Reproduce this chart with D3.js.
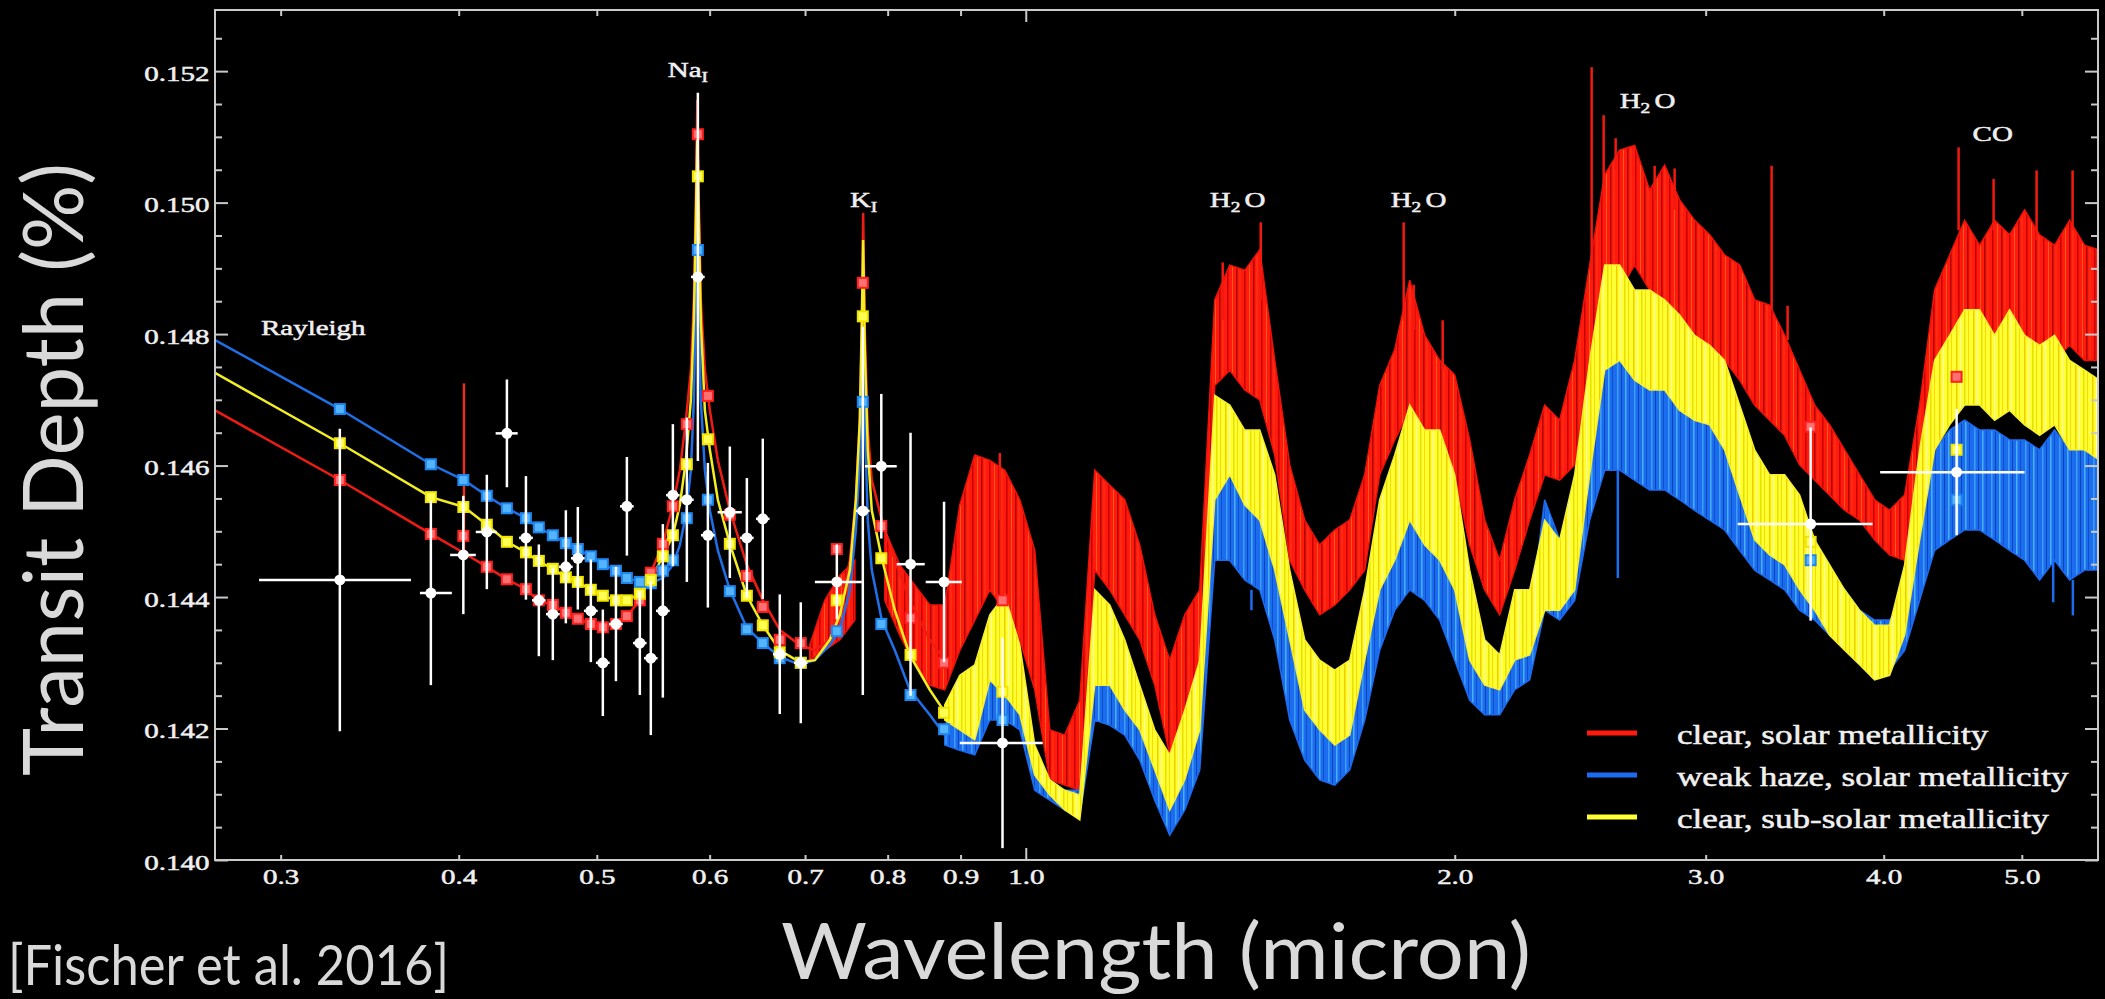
<!DOCTYPE html>
<html>
<head>
<meta charset="utf-8">
<script src="https://cdn.jsdelivr.net/npm/d3@7"></script>
<style>
  html, body { margin: 0; padding: 0; background: #000; overflow: hidden; }
  svg { display: block; }
</style>
</head>
<body>
<div id="chart"></div>
<script>
// ---- axes ----
const xDomain = [0.2698, 5.655];
const yDomain = [0.140, 0.15293];
const xTicks = [0.3, 0.4, 0.5, 0.6, 0.7, 0.8, 0.9, 1.0, 2.0, 3.0, 4.0, 5.0];
const yMajor = [0.140, 0.142, 0.144, 0.146, 0.148, 0.150, 0.152];
const yMinor = [0.1405, 0.141, 0.1415, 0.1425, 0.143, 0.1435, 0.1445, 0.145, 0.1455,
                0.1465, 0.147, 0.1475, 0.1485, 0.149, 0.1495, 0.1505, 0.151, 0.1515, 0.1525];

// ---- smooth model part (optical) ----
const smoothWave = [0.2698,0.3301,0.3824,0.4034,0.4186,0.4324,0.4459,0.4546,0.4657,0.4756,0.4849,0.4952,0.5049,0.5157,0.5249,0.5360,0.5456,0.5563,0.5654,0.5718,0.5774,0.5821,0.5849,0.5868,0.5882,0.5896,0.5915,0.5954,0.6002,0.6080,0.6199,0.6372,0.6539,0.6720,0.6941,0.7112,0.7286,0.7405,0.7526,0.7599,0.7648,0.7673,0.7689,0.7710,0.7747,0.7797,0.7924,0.8093,0.8291,0.8563,0.8773];
const redSmooth = [0.14684,0.14578,0.14496,0.14467,0.14446,0.14427,0.14412,0.14395,0.14388,0.14376,0.14367,0.14359,0.14354,0.14359,0.14371,0.14395,0.14437,0.14481,0.14540,0.14593,0.14669,0.14745,0.14852,0.15004,0.15156,0.15004,0.14852,0.14745,0.14684,0.14608,0.14532,0.14449,0.14395,0.14350,0.14327,0.14319,0.14335,0.14380,0.14456,0.14548,0.14669,0.14806,0.14984,0.14806,0.14654,0.14578,0.14517,0.14456,0.14395,0.14335,0.14304];
const blueSmooth = [0.14791,0.14686,0.14602,0.14578,0.14554,0.14535,0.14520,0.14506,0.14494,0.14482,0.14473,0.14462,0.14450,0.14440,0.14429,0.14423,0.14421,0.14429,0.14449,0.14479,0.14525,0.14593,0.14700,0.14852,0.15004,0.14852,0.14700,0.14593,0.14532,0.14471,0.14411,0.14353,0.14330,0.14309,0.14297,0.14304,0.14327,0.14350,0.14411,0.14502,0.14608,0.14730,0.14806,0.14669,0.14517,0.14441,0.14365,0.14319,0.14259,0.14221,0.14190];
const yellowSmooth = [0.14741,0.14634,0.14552,0.14537,0.14510,0.14484,0.14468,0.14455,0.14443,0.14430,0.14423,0.14411,0.14402,0.14395,0.14395,0.14405,0.14426,0.14462,0.14494,0.14540,0.14608,0.14700,0.14821,0.14973,0.15110,0.14973,0.14821,0.14684,0.14624,0.14548,0.14481,0.14402,0.14357,0.14319,0.14301,0.14304,0.14335,0.14373,0.14441,0.14548,0.14669,0.14821,0.14943,0.14776,0.14624,0.14532,0.14459,0.14380,0.14312,0.14259,0.14225];

// ---- high resolution model part (upper / lower envelope of the spectra) ----
const specWave = [0.7054,0.7227,0.7405,0.7587,0.7773,0.7963,0.8158,0.8358,0.8563,0.8773,0.8989,0.9209,0.9435,0.9666,0.9904,1.0146,1.0395,1.0650,1.0912,1.1179,1.1453,1.1734,1.2022,1.2317,1.2619,1.2929,1.3246,1.3571,1.3904,1.4245,1.4594,1.4952,1.5319,1.5694,1.6079,1.6474,1.6878,1.7292,1.7716,1.8151,1.8596,1.9052,1.9519,1.9998,2.0489,2.0991,2.1506,2.2034,2.2574,2.3128,2.3695,2.4276,2.4872,2.5482,2.6107,2.6747,2.7403,2.8075,2.8764,2.9470,3.0193,3.0933,3.1692,3.2470,3.3266,3.4082,3.4918,3.5775,3.6652,3.7551,3.8472,3.9416,4.0383,4.1374,4.2389,4.3429,4.4494,4.5585,4.6703,4.7849,4.9023,5.0225,5.1457,5.2720,5.4013,5.5338,5.6695];
const redHi = [0.14327,0.14395,0.14433,0.14456,null,0.14502,0.14449,0.14418,0.14388,0.14388,0.14540,0.14616,0.14608,0.14593,0.14548,0.14471,0.14198,0.14190,0.14243,0.14593,0.14570,0.14548,0.14479,0.14373,0.14304,0.14373,0.14411,0.14852,0.14905,0.14897,0.14928,0.14760,0.14601,0.14517,0.14479,0.14502,0.14517,0.14586,0.14722,0.14776,0.14882,0.14798,0.14760,0.14738,0.14639,0.14517,0.14456,0.14548,0.14616,0.14692,0.14669,0.14760,0.14905,0.15042,0.15080,0.15087,0.15019,0.15057,0.15004,0.14973,0.14951,0.14920,0.14905,0.14852,0.14844,0.14798,0.14745,0.14692,0.14662,0.14624,0.14586,0.14548,0.14532,0.14555,0.14692,0.14867,0.14920,0.14973,0.14935,0.14973,0.14951,0.14989,0.14951,0.14935,0.14973,0.14935,0.14928];
const redLo = [0.14304,0.14319,0.14335,0.14365,null,0.14395,0.14342,0.14297,0.14266,0.14259,0.14319,0.14365,0.14411,0.14380,0.14335,0.14259,0.14122,0.14114,0.14106,0.14441,0.14411,0.14373,0.14335,0.14266,0.14160,0.14198,0.14266,0.14722,0.14745,0.14715,0.14700,0.14616,0.14456,0.14411,0.14373,0.14388,0.14411,0.14441,0.14586,0.14639,0.14684,0.14654,0.14616,0.14586,0.14479,0.14411,0.14373,0.14441,0.14517,0.14586,0.14578,0.14601,0.14760,0.14837,0.14867,0.14905,0.14867,0.14852,0.14829,0.14798,0.14783,0.14760,0.14730,0.14692,0.14669,0.14646,0.14601,0.14578,0.14555,0.14532,0.14517,0.14487,0.14464,0.14456,0.14555,0.14730,0.14760,0.14783,0.14783,0.14798,0.14783,0.14798,0.14768,0.14760,0.14783,0.14760,0.14760];
const yellowHi = [null,null,null,null,null,null,null,null,null,0.14236,0.14281,0.14297,0.14373,0.14403,0.14327,0.14175,0.14122,0.14106,0.14099,0.14411,0.14388,0.14335,0.14266,0.14198,0.14160,0.14228,0.14304,0.14707,0.14692,0.14654,0.14654,0.14586,0.14441,0.14335,0.14304,0.14289,0.14304,0.14411,0.14548,0.14616,0.14692,0.14654,0.14654,0.14586,0.14441,0.14335,0.14312,0.14411,0.14411,0.14517,0.14487,0.14586,0.14760,0.14905,0.14905,0.14867,0.14867,0.14852,0.14829,0.14798,0.14783,0.14760,0.14692,0.14624,0.14586,0.14586,0.14555,0.14487,0.14449,0.14411,0.14380,0.14357,0.14357,0.14449,0.14624,0.14760,0.14798,0.14837,0.14837,0.14798,0.14837,0.14798,0.14783,0.14798,0.14760,0.14745,0.14730];
const yellowLo = [null,null,null,null,null,null,null,null,null,0.14213,0.14198,0.14183,0.14274,0.14251,0.14221,0.14129,0.14099,0.14076,0.14061,0.14266,0.14266,0.14228,0.14198,0.14137,0.14076,0.14122,0.14198,0.14548,0.14586,0.14540,0.14517,0.14441,0.14335,0.14228,0.14198,0.14175,0.14190,0.14304,0.14411,0.14456,0.14517,0.14479,0.14456,0.14411,0.14304,0.14266,0.14259,0.14304,0.14312,0.14380,0.14380,0.14411,0.14586,0.14745,0.14760,0.14730,0.14715,0.14715,0.14684,0.14669,0.14662,0.14624,0.14555,0.14487,0.14464,0.14449,0.14411,0.14380,0.14342,0.14319,0.14297,0.14274,0.14281,0.14342,0.14487,0.14624,0.14662,0.14692,0.14692,0.14669,0.14684,0.14662,0.14646,0.14662,0.14624,0.14624,0.14608];
const blueHi = [null,null,null,null,null,null,null,null,null,0.14205,0.14243,0.14213,0.14289,0.14297,0.14259,0.14152,0.14122,0.14106,0.14106,0.14304,0.14297,0.14274,0.14213,0.14152,0.14106,0.14167,0.14243,0.14593,0.14593,0.14563,0.14548,0.14456,0.14335,0.14259,0.14243,0.14243,0.14259,0.14335,0.14456,0.14548,0.14593,0.14578,0.14563,0.14471,0.14350,0.14274,0.14274,0.14335,0.14365,0.14548,0.14487,0.14548,0.14669,0.14760,0.14760,0.14745,0.14738,0.14730,0.14715,0.14700,0.14684,0.14669,0.14639,0.14593,0.14578,0.14548,0.14517,0.14487,0.14441,0.14411,0.14380,0.14365,0.14365,0.14395,0.14548,0.14624,0.14654,0.14669,0.14654,0.14654,0.14639,0.14639,0.14624,0.14654,0.14624,0.14639,0.14639];
const blueLo = [null,null,null,null,null,null,null,null,null,0.14175,0.14167,0.14160,0.14213,0.14213,0.14198,0.14106,0.14091,0.14076,0.14068,0.14213,0.14205,0.14190,0.14152,0.14091,0.14038,0.14076,0.14137,0.14456,0.14456,0.14426,0.14411,0.14335,0.14213,0.14152,0.14122,0.14114,0.14137,0.14213,0.14319,0.14380,0.14411,0.14395,0.14365,0.14304,0.14243,0.14221,0.14221,0.14259,0.14274,0.14380,0.14365,0.14395,0.14517,0.14593,0.14593,0.14578,0.14563,0.14563,0.14548,0.14532,0.14517,0.14502,0.14471,0.14441,0.14426,0.14411,0.14380,0.14365,0.14342,0.14327,0.14312,0.14297,0.14289,0.14319,0.14395,0.14471,0.14487,0.14502,0.14502,0.14487,0.14471,0.14456,0.14426,0.14456,0.14426,0.14441,0.14441];

// narrow lines sticking out of the clear solar model
const spikeWave = [0.4034,0.9589,1.3747,1.4618,1.8416,1.8716,1.9614,2.4952,2.5441,2.5939,2.7626,2.8533,3.3373,3.4247,4.5145,4.7771,5.1208,5.4275];
const spikeTop  = [0.14725,0.14619,0.14909,0.14970,0.14970,0.14875,0.14821,0.15206,0.15133,0.15098,0.15056,0.15052,0.15056,0.14843,0.15084,0.15036,0.15049,0.15049];
const spikeBase = [0.14467,0.14517,0.14821,0.14852,0.14821,0.14806,0.14745,0.14882,0.15019,0.15049,0.15004,0.14989,0.14837,0.14791,0.14958,0.14958,0.14943,0.14958];
// narrow lines of the hazy model reaching below its envelope
const blueDipWave = [1.4400,2.6030,5.2600,5.4300];
const blueDipTop  = [0.14411,0.14593,0.14456,0.14426];
const blueDipBot  = [0.14380,0.14429,0.14392,0.14372];

// ---- observations ----
const obsWave = [0.3301,0.3824,0.4030,0.4186,0.4324,0.4459,0.4553,0.4657,0.4756,0.4849,0.4952,0.5049,0.5157,0.5249,0.5360,0.5456,0.5563,0.5654,0.5783,0.5887,0.5983,0.6199,0.6372,0.6538,0.6720,0.6952,0.7369,0.7685,0.7918,0.8301,0.8763,0.9631,3.5545,4.4999];
const obsWaveLo = [0.2897,0.3757,0.3945,0.4112,0.4246,0.4410,0.4503,0.4606,0.4704,0.4796,0.4897,0.4993,0.5100,0.5191,0.5301,0.5396,0.5502,0.5592,0.5719,0.5822,0.5917,0.6078,0.6302,0.6467,0.6646,0.6876,0.7112,0.7600,0.7711,0.8118,0.8507,0.8989,3.159,3.977];
const obsWaveHi = [0.3703,0.3956,0.4112,0.4253,0.4400,0.4509,0.4603,0.4709,0.4809,0.4903,0.5007,0.5105,0.5214,0.5307,0.5419,0.5516,0.5625,0.5716,0.5847,0.5952,0.6049,0.6320,0.6442,0.6610,0.6794,0.7028,0.7672,0.7770,0.8118,0.8494,0.9018,1.0278,3.929,5.022];
const obsDepth = [0.14426,0.14406,0.14464,0.14499,0.14649,0.14490,0.14395,0.14374,0.14446,0.14459,0.14379,0.14300,0.14359,0.14538,0.14330,0.14307,0.14379,0.14555,0.14548,0.14887,0.14494,0.14529,0.14490,0.14519,0.14313,0.14300,0.14423,0.14531,0.14599,0.14450,0.14423,0.14178,0.14511,0.14590];
const obsErr = [0.0023,0.0014,0.0009,0.00087,0.00082,0.00094,0.00085,0.0007,0.00086,0.00078,0.00078,0.00081,0.00087,0.00075,0.00079,0.00117,0.00132,0.00108,0.00125,0.0028,0.0011,0.001,0.00091,0.00122,0.00091,0.00092,0.00057,0.0028,0.0011,0.0020,0.00122,0.0016,0.00147,0.00096];

// models binned to the observed channels
const redBinned = [0.14578,0.14496,0.14493,0.14446,0.14427,0.14412,0.14395,0.14388,0.14376,0.14367,0.14359,0.14354,0.14359,0.14371,0.14395,0.14437,0.14481,0.14538,0.14663,0.15104,0.14706,0.14525,0.14432,0.14385,0.14335,0.14330,0.14473,0.14878,0.14508,0.14368,0.14300,0.14395,0.14659,0.14735];
const blueBinned = [0.14686,0.14602,0.14578,0.14554,0.14535,0.14520,0.14506,0.14494,0.14482,0.14473,0.14462,0.14450,0.14440,0.14429,0.14423,0.14421,0.14440,0.14456,0.14520,0.14928,0.14548,0.14409,0.14351,0.14330,0.14307,0.14300,0.14348,0.14697,0.14359,0.14251,0.14199,0.14213,0.14456,0.14548];
const yellowBinned = [0.14634,0.14552,0.14537,0.14510,0.14484,0.14468,0.14455,0.14443,0.14430,0.14423,0.14411,0.14402,0.14395,0.14395,0.14405,0.14426,0.14462,0.14494,0.14602,0.15040,0.14640,0.14481,0.14402,0.14357,0.14316,0.14300,0.14395,0.14827,0.14459,0.14312,0.14224,0.14256,0.14484,0.14624];

const legendNames = ["clear, solar metallicity", "weak haze, solar metallicity", "clear, sub-solar metallicity"];

// ---- drawing ----
const W = 2105, H = 999;
const x0 = 215, x1 = 2098, yTop = 10, yBot = 860;
const axisColor = "#c9c9c9", labelColor = "#f0f0f0";
const red = "#ff1a0d", blue = "#1c6cf0", yellow = "#ffff33";
const serif = "'Liberation Serif', 'Times New Roman', serif";

const svg = d3.select("#chart").append("svg").attr("width", W).attr("height", H);
svg.append("rect").attr("width", W).attr("height", H).attr("fill", "#000");

const x = d3.scaleLog().domain(xDomain).range([x0, x1]);
const y = d3.scaleLinear().domain(yDomain).range([yBot, yTop]);

const defs = svg.append("defs");
defs.append("clipPath").attr("id", "clip")
   .append("rect").attr("x", x0).attr("y", yTop).attr("width", x1 - x0).attr("height", yBot - yTop);

// streaky fills, so the dense spectra do not look like flat areas
function streaks(id, base, stripes){
    const p = defs.append("pattern").attr("id", id).attr("patternUnits", "userSpaceOnUse")
        .attr("width", 17).attr("height", 40);
    p.append("rect").attr("width", 17).attr("height", 40).attr("fill", base);
    stripes.forEach(s => p.append("rect").attr("x", s[0]).attr("width", s[1]).attr("height", 40).attr("fill", s[2]));
}
streaks("redFill", red, [[3, 1.5, "#c80000"], [8, 1, "#ff5a1a"], [12, 1.5, "#b00000"], [15.5, 1, "#ff3a10"]]);
streaks("blueFill", blue, [[2, 1.5, "#3d9df5"], [6, 1, "#0b45b8"], [10, 1.5, "#48b0f5"], [14, 1, "#0d50c8"]]);
streaks("yellowFill", yellow, [[1, 1.5, "#f0cf00"], [5, 1, "#ffffb0"], [9, 1.5, "#e8e000"], [13, 1, "#ffd800"]]);

const plot = svg.append("g").attr("clip-path", "url(#clip)");

function bandPath(hi, lo){
    return d3.area()
        .defined((d, i) => hi[i] != null && lo[i] != null)
        .x(d => x(d))
        .y0((d, i) => y(lo[i]))
        .y1((d, i) => y(hi[i]))(specWave);
}

// red model
plot.append("path").attr("d", bandPath(redHi, redLo))
    .attr("fill", "url(#redFill)").attr("stroke", "#f01208").attr("stroke-width", 1.5);
spikeWave.forEach((w, i) => {
    plot.append("line")
        .attr("x1", x(w)).attr("x2", x(w))
        .attr("y1", y(spikeBase[i])).attr("y2", y(spikeTop[i]))
        .attr("stroke", i == 0 ? "#e83020" : "#f21a0e").attr("stroke-width", 2.5);
});
// blue and yellow models
plot.append("path").attr("d", bandPath(blueHi, blueLo))
    .attr("fill", "url(#blueFill)").attr("stroke", blue).attr("stroke-width", 1.5);
blueDipWave.forEach((w, i) => {
    plot.append("line")
        .attr("x1", x(w)).attr("x2", x(w))
        .attr("y1", y(blueDipTop[i])).attr("y2", y(blueDipBot[i]))
        .attr("stroke", blue).attr("stroke-width", 2.5);
});
plot.append("path").attr("d", bandPath(yellowHi, yellowLo))
    .attr("fill", "url(#yellowFill)").attr("stroke", "#f6f030").attr("stroke-width", 1.5);

// smooth optical part
function smoothLine(vals){
    return d3.line().x(d => x(d)).y((d, i) => y(vals[i]))(smoothWave);
}
plot.append("path").attr("d", smoothLine(redSmooth)).attr("fill", "none").attr("stroke", "#f01c14").attr("stroke-width", 2.5);
plot.append("path").attr("d", smoothLine(blueSmooth)).attr("fill", "none").attr("stroke", "#1f70e8").attr("stroke-width", 2.5);
plot.append("path").attr("d", smoothLine(yellowSmooth)).attr("fill", "none").attr("stroke", "#f2ee22").attr("stroke-width", 2.5);

// binned squares
const squares = [
    {vals: redBinned, fill: "#ff7070", stroke: "#ff1f1f"},
    {vals: blueBinned, fill: "#55b4ff", stroke: "#1d86ee"},
    {vals: yellowBinned, fill: "#ffff55", stroke: "#f0e400"}
];
squares.forEach(s => {
    plot.selectAll(null).data(obsWave).enter().append("rect")
        .attr("x", d => x(d) - 5)
        .attr("y", (d, i) => y(s.vals[i]) - 5)
        .attr("width", 10).attr("height", 10)
        .attr("fill", s.fill).attr("stroke", s.stroke).attr("stroke-width", 2);
});

// observations
const obs = plot.append("g");
obs.selectAll(".ey").data(obsWave).enter().append("line")
    .attr("x1", d => x(d)).attr("x2", d => x(d))
    .attr("y1", (d, i) => y(obsDepth[i] - obsErr[i]))
    .attr("y2", (d, i) => y(obsDepth[i] + obsErr[i]))
    .attr("stroke", "#ffffff").attr("stroke-width", 2.5);
obs.selectAll(".ex").data(obsWave).enter().append("line")
    .attr("x1", (d, i) => x(obsWaveLo[i])).attr("x2", (d, i) => x(obsWaveHi[i]))
    .attr("y1", (d, i) => y(obsDepth[i])).attr("y2", (d, i) => y(obsDepth[i]))
    .attr("stroke", "#ffffff").attr("stroke-width", 2.5);
obs.selectAll("circle").data(obsWave).enter().append("circle")
    .attr("cx", d => x(d)).attr("cy", (d, i) => y(obsDepth[i]))
    .attr("r", 5.5).attr("fill", "#ffffff");

// frame
svg.append("rect").attr("x", x0).attr("y", yTop).attr("width", x1 - x0).attr("height", yBot - yTop)
   .attr("fill", "none").attr("stroke", axisColor).attr("stroke-width", 2);

// axes
function styleTicks(g){
    g.select(".domain").remove();
    g.selectAll(".tick line").attr("stroke", axisColor).attr("stroke-width", 2);
}
function styleLabels(sel){
    sel.attr("fill", labelColor).attr("stroke", labelColor).attr("stroke-width", 0.5)
       .style("font-family", serif).style("font-size", "21px");
}
const gx = svg.append("g").attr("transform", `translate(0,${yBot})`)
    .call(d3.axisBottom(x).tickValues(xTicks).tickFormat(d3.format(".1f")).tickSize(-5).tickPadding(9));
styleTicks(gx);
gx.selectAll(".tick line").attr("y2", d => d === 1 ? -12 : -5);
styleLabels(gx.selectAll(".tick text"));
gx.selectAll(".tick text").attr("transform", "scale(1.38,1)");

const gxt = svg.append("g").attr("transform", `translate(0,${yTop})`)
    .call(d3.axisTop(x).tickValues(xTicks).tickFormat("").tickSize(-6));
styleTicks(gxt);
gxt.selectAll(".tick line").attr("y2", d => d === 1 ? 12 : 6);

const gy = svg.append("g").attr("transform", `translate(${x0},0)`)
    .call(d3.axisLeft(y).tickValues(yMajor).tickFormat(d3.format(".3f")).tickSize(-13).tickPadding(4));
styleTicks(gy);
styleLabels(gy.selectAll(".tick text"));
gy.selectAll(".tick text").attr("dy", "0.43em").attr("transform", "scale(1.38,1)");
styleTicks(svg.append("g").attr("transform", `translate(${x0},0)`)
    .call(d3.axisLeft(y).tickValues(yMinor).tickFormat("").tickSize(-7)));
styleTicks(svg.append("g").attr("transform", `translate(${x1},0)`)
    .call(d3.axisRight(y).tickValues(yMajor).tickFormat("").tickSize(-13)));
styleTicks(svg.append("g").attr("transform", `translate(${x1},0)`)
    .call(d3.axisRight(y).tickValues(yMinor).tickFormat("").tickSize(-7)));

// feature labels
const features = [
    {parts: [["Na", 0], ["I", 1]], wave: 0.5608, depth: 0.15191},
    {parts: [["K", 0], ["I", 1]], wave: 0.7526, depth: 0.14993},
    {parts: [["H", 0], ["2", 1], ["O", 2]], wave: 1.3461, depth: 0.14993},
    {parts: [["H", 0], ["2", 1], ["O", 2]], wave: 1.8033, depth: 0.14993},
    {parts: [["H", 0], ["2", 1], ["O", 2]], wave: 2.6107, depth: 0.15144},
    {parts: [["CO", 0]], wave: 4.6177, depth: 0.15094},
    {parts: [["Rayleigh", 0]], wave: 0.2906, depth: 0.14798}
];
features.forEach(f => {
    const t = svg.append("text")
        .attr("transform", `translate(${x(f.wave)},${y(f.depth)}) scale(1.38,1)`);
    styleLabels(t);
    f.parts.forEach(p => {
        const s = t.append("tspan").text(p[0]);
        if (p[1] === 1) s.style("font-size", "14px").attr("dy", 5);
        if (p[1] === 2) s.attr("dy", -5).attr("dx", 3);
    });
});

// legend
const legendColors = [red, blue, yellow];
legendNames.forEach((name, i) => {
    const ly = 733 + i * 42;
    svg.append("line").attr("x1", 1587).attr("x2", 1637).attr("y1", ly).attr("y2", ly)
       .attr("stroke", legendColors[i]).attr("stroke-width", 5);
    const t = svg.append("text").attr("transform", `translate(1677,${ly + 11}) scale(1.3,1)`).text(name);
    styleLabels(t);
    t.style("font-size", "27px");
});

// slide texts
const sans = "Lato, 'Open Sans', sans-serif";
svg.append("text").attr("transform", "translate(83,776) rotate(-90)")
   .attr("fill", "#d9d9d9").style("font-family", sans).style("font-size", "84px")
   .attr("textLength", 613).attr("lengthAdjust", "spacingAndGlyphs")
   .text("Transit Depth (%)");
svg.append("text").attr("x", 781).attr("y", 979)
   .attr("fill", "#d9d9d9").style("font-family", sans).style("font-size", "78px")
   .attr("textLength", 750).attr("lengthAdjust", "spacingAndGlyphs")
   .text("Wavelength (micron)");
svg.append("text").attr("x", 8).attr("y", 985)
   .attr("fill", "#d9d9d9").style("font-family", sans).style("font-size", "56px")
   .attr("textLength", 441).attr("lengthAdjust", "spacingAndGlyphs")
   .text("[Fischer et al. 2016]");
</script>
</body>
</html>
